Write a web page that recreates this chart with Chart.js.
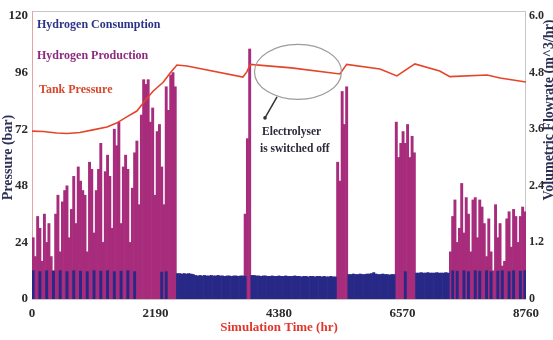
<!DOCTYPE html>
<html>
<head>
<meta charset="utf-8">
<title>Hydrogen tank simulation</title>
<script src="https://cdn.jsdelivr.net/npm/chart.js@4.4.1/dist/chart.umd.min.js"></script>
<style>
  html, body { margin: 0; padding: 0; background: #fff; }
  #wrap { width: 553px; height: 340px; position: relative; }
</style>
</head>
<body>
<div id="wrap"><canvas id="h2Chart"></canvas></div>
<script>
// every bar covers 40 hours of the year
const binHours = 40;
const xTickStep = 2190;

// hydrogen production (m^3/hr), one value per bin, each run starts at the given hour
const prodRun1Start = 0;
const prodRun1 = [
  1.3, 0.9, 1.75, 1.5, 0.8, 1.8, 1.2, 1.6, 0.9, 0.6,
  1.8, 2.2, 1.0, 2.06, 2.3, 2.4, 1.3, 1.9, 2.6, 1.6,
  2.8, 2.5, 2.3, 2.2, 1.0, 2.9, 2.75, 1.4, 2.3, 2.75,
  3.3, 1.2, 2.7, 3.05, 2.6, 1.5, 3.6, 3.25, 3.75, 1.6,
  2.8, 3.05, 2.75, 1.2, 2.35, 3.1, 3.35, 2.0, 3.9, 4.65,
  4.55, 4.65, 3.75, 4.05, 2.2, 3.55, 3.7, 2.8, 2.0, 4.5,
  4.0, 4.75, 4.8, 4.5
];
const prodRun2Start = 3760;
const prodRun2 = [1.8, 3.4, 5.3];
const prodRun3Start = 5400;
const prodRun3 = [2.9, 2.5, 4.4, 3.7, 4.5];
const prodRun4Start = 6440;
const prodRun4 = [3.75, 3.0, 3.3, 3.55, 3.3, 3.7, 3.0, 3.45, 3.1];
const prodRun5Start = 7400;
const prodRun5 = [
  1.0, 1.75, 2.1, 1.2, 1.5, 2.45, 1.4, 2.15, 1.8, 1.0,
  2.1, 2.15, 1.3, 2.1, 1.95, 1.6, 0.9, 1.7, 1.0, 0.6,
  2.0, 1.3, 1.6, 0.7, 0.8, 1.7, 1.85, 1.1, 1.9, 1.75,
  1.2, 1.75, 1.95, 1.85
];

// hydrogen consumption (m^3/hr) while the electrolyser is off
const useOff1Start = 2560;
const useOff1 = [0.54, 0.54, 0.53, 0.54, 0.53, 0.54, 0.53, 0.52, 0.5, 0.49,
  0.5, 0.49, 0.5, 0.49, 0.49, 0.5, 0.49, 0.49, 0.5, 0.49,
  0.49, 0.48, 0.49, 0.49, 0.48, 0.49, 0.49, 0.48, 0.49, 0.49, 0.48];
const useOff2Start = 3880;
const useOff2 = [0.5, 0.5, 0.49, 0.49, 0.48, 0.49, 0.49, 0.48, 0.48, 0.49, 0.48,
  0.48, 0.49, 0.48, 0.48, 0.49, 0.48, 0.48, 0.48, 0.49, 0.48,
  0.48, 0.47, 0.48, 0.48, 0.47, 0.48, 0.48, 0.47, 0.48, 0.48,
  0.47, 0.48, 0.47, 0.47, 0.48, 0.47, 0.47];
const useOff3Start = 5600;
const useOff3 = [0.52, 0.52, 0.53, 0.52, 0.52, 0.53, 0.52, 0.52, 0.53, 0.53,
  0.54, 0.56, 0.53, 0.52, 0.52, 0.53, 0.52, 0.52, 0.51, 0.52, 0.52];
const useOff4Start = 6800;
const useOff4 = [0.55, 0.55, 0.56, 0.55, 0.55, 0.56, 0.55, 0.55, 0.55, 0.56,
  0.55, 0.55, 0.55, 0.56, 0.55];
// consumption showing through between production bars
const nightHours = [0, 120, 240, 360, 480, 600, 720, 840, 960, 1080,
  1200, 1320, 1440, 1560, 1680, 1800, 2280, 2360, 6600, 7440,
  7520, 7640, 7720, 7840, 7920, 8040, 8120, 8240, 8320, 8440,
  8520, 8640, 8720];
const nightUse = [0.6, 0.58, 0.6, 0.59, 0.6, 0.58, 0.6, 0.59, 0.58, 0.6,
  0.59, 0.6, 0.58, 0.59, 0.6, 0.58, 0.57, 0.58, 0.58, 0.6,
  0.59, 0.6, 0.58, 0.6, 0.59, 0.6, 0.58, 0.59, 0.6, 0.58,
  0.6, 0.59, 0.6];

// tank pressure (bar)
const pressureHours = [0, 200, 440, 620, 850, 1080, 1330, 1500, 1680, 1860,
  2000, 2150, 2330, 2450, 2570, 2750, 3740, 3810, 3870, 4600,
  5460, 5580, 6170, 6470, 6790, 7230, 7410, 8070, 8300, 8760];
const pressureBar = [71.2, 71.0, 70.4, 70.2, 70.6, 71.7, 72.9, 74.6, 77.2, 79.7,
  84.0, 88.2, 92.0, 95.8, 99.2, 98.8, 94.1, 96.3, 99.5, 98.0,
  95.4, 99.5, 97.5, 94.6, 99.7, 96.7, 94.3, 95.0, 93.7, 92.0];

const serif = "'Liberation Serif', 'Times New Roman', serif";
const colProd = 'rgb(168,44,124)';
const colUse = 'rgb(40,40,135)';
const colPress = 'rgb(230,68,42)';

function binPoints(start, values) {
  return values.map((v, i) => ({ x: start + i * binHours + binHours / 2, y: v }));
}

const productionPts = [].concat(
  binPoints(prodRun1Start, prodRun1),
  binPoints(prodRun2Start, prodRun2),
  binPoints(prodRun3Start, prodRun3),
  binPoints(prodRun4Start, prodRun4),
  binPoints(prodRun5Start, prodRun5)
);
const consumptionPts = [].concat(
  binPoints(useOff1Start, useOff1),
  binPoints(useOff2Start, useOff2),
  binPoints(useOff3Start, useOff3),
  binPoints(useOff4Start, useOff4),
  nightHours.map((h, i) => ({ x: h + binHours / 2, y: nightUse[i] }))
).sort((a, b) => a.x - b.x);
const pressurePts = pressureHours.map((h, i) => ({ x: h, y: pressureBar[i] }));

// annotation placed in data units (hours, bar)
const note = {
  ellipse: { hr: 4717, bar: 96.3, hrSpan: 1543, barSpan: 23.3 },
  arrowFrom: { hr: 4345, bar: 85.7 },
  arrowTo: { hr: 4132, bar: 76.8 },
  lines: [
    { text: 'Electrolyser', hr: 4079, bar: 69.5 },
    { text: 'is switched off', hr: 4043, bar: 62.3 }
  ]
};

const decorations = {
  id: 'decorations',
  beforeDatasetsDraw(chart) {
    const { ctx, chartArea: a } = chart;
    ctx.save();
    ctx.strokeStyle = '#c6c6c6';
    ctx.lineWidth = 1;
    ctx.strokeRect(a.left + 0.5, a.top - 5 + 0.5, a.right - a.left - 1, a.bottom - a.top + 5);
    ctx.strokeStyle = '#e4a4a4';
    ctx.beginPath();
    ctx.moveTo(a.left + 0.5, a.top - 5);
    ctx.lineTo(a.left + 0.5, a.bottom);
    ctx.stroke();
    ctx.restore();
  },
  afterDraw(chart) {
    const { ctx, chartArea: a } = chart;
    const xs = chart.scales.x, ys = chart.scales.y;
    ctx.save();

    // legend, text only
    ctx.font = 'bold 12px ' + serif;
    ctx.textBaseline = 'alphabetic';
    ctx.textAlign = 'left';
    ctx.fillStyle = '#2c3585';
    ctx.fillText('Hydrogen Consumption', a.left + 5, 28);
    ctx.fillStyle = '#8c2a80';
    ctx.fillText('Hydrogen Production', a.left + 5, 59);
    ctx.fillStyle = '#d8472b';
    ctx.fillText('Tank Pressure', a.left + 7, 93);

    // ellipse + pointer + note
    const e = note.ellipse;
    const cx = xs.getPixelForValue(e.hr), cy = ys.getPixelForValue(e.bar);
    const rx = Math.abs(xs.getPixelForValue(e.hr + e.hrSpan / 2) - cx);
    const ry = Math.abs(ys.getPixelForValue(e.bar + e.barSpan / 2) - cy);
    ctx.strokeStyle = '#9c9c9c';
    ctx.lineWidth = 1.2;
    ctx.beginPath();
    ctx.ellipse(cx, cy, rx, ry, 0, 0, Math.PI * 2);
    ctx.stroke();

    const x1 = xs.getPixelForValue(note.arrowFrom.hr), y1 = ys.getPixelForValue(note.arrowFrom.bar);
    const x2 = xs.getPixelForValue(note.arrowTo.hr), y2 = ys.getPixelForValue(note.arrowTo.bar);
    ctx.strokeStyle = '#333';
    ctx.lineWidth = 1.5;
    ctx.beginPath();
    ctx.moveTo(x1, y1);
    ctx.lineTo(x2, y2);
    ctx.stroke();
    ctx.fillStyle = '#333';
    ctx.beginPath();
    ctx.arc(x2, y2, 1.8, 0, Math.PI * 2);
    ctx.fill();

    ctx.font = 'bold 11.5px ' + serif;
    ctx.fillStyle = '#2b2b3b';
    note.lines.forEach(l => {
      ctx.fillText(l.text, xs.getPixelForValue(l.hr), ys.getPixelForValue(l.bar));
    });

    // right axis title, reading bottom to top
    ctx.translate(549, 110);
    ctx.rotate(-Math.PI / 2);
    ctx.textAlign = 'center';
    ctx.textBaseline = 'middle';
    ctx.font = 'bold 14px ' + serif;
    ctx.fillStyle = '#2d2f55';
    ctx.fillText('Volumetric Flowrate (m^3/hr)', 0, 0);
    ctx.restore();
  }
};

const tickFont = { family: serif, size: 13, weight: 'bold' };

new Chart(document.getElementById('h2Chart'), {
  type: 'bar',
  data: {
    datasets: [
      {
        type: 'line',
        label: 'Tank Pressure',
        data: pressurePts,
        yAxisID: 'y',
        borderColor: colPress,
        borderWidth: 1.6,
        pointRadius: 0,
        tension: 0,
        order: 0
      },
      {
        label: 'Hydrogen Consumption',
        data: consumptionPts,
        yAxisID: 'y1',
        backgroundColor: colUse,
        borderWidth: 0,
        barPercentage: 1,
        categoryPercentage: 1,
        grouped: false,
        order: 1
      },
      {
        label: 'Hydrogen Production',
        data: productionPts,
        yAxisID: 'y1',
        backgroundColor: colProd,
        borderWidth: 0,
        barPercentage: 1,
        categoryPercentage: 1,
        grouped: false,
        order: 2
      }
    ]
  },
  options: {
    responsive: true,
    maintainAspectRatio: false,
    animation: false,
    layout: { padding: { top: 16, left: 0, right: 0, bottom: 0 } },
    plugins: {
      legend: { display: false },
      tooltip: { enabled: false }
    },
    scales: {
      x: {
        type: 'linear',
        min: 0,
        max: 8760,
        offset: false,
        grid: { display: false, drawTicks: false },
        border: { display: false },
        ticks: {
          stepSize: xTickStep,
          font: tickFont,
          color: '#2a2a2a',
          padding: 7,
          maxRotation: 0,
          autoSkip: false,
          callback: v => String(v)
        },
        title: {
          display: true,
          text: 'Simulation Time (hr)',
          color: '#e0362c',
          font: { family: serif, size: 13, weight: 'bold' },
          padding: { top: 0, bottom: 5 }
        },
        afterFit: s => { s.height = 41; }
      },
      y: {
        position: 'left',
        min: 0,
        max: 120,
        grid: { display: false, drawTicks: false },
        border: { display: false },
        ticks: { stepSize: 24, font: tickFont, color: '#2a2a2a', padding: 4 },
        title: {
          display: true,
          text: 'Pressure (bar)',
          color: '#2d2f55',
          font: { family: serif, size: 14, weight: 'bold' },
          padding: { top: 0, bottom: 0 }
        },
        afterFit: s => { s.width = 32; }
      },
      y1: {
        position: 'right',
        min: 0,
        max: 6,
        grid: { display: false, drawTicks: false },
        border: { display: false },
        ticks: {
          stepSize: 1.2,
          font: { family: serif, size: 12, weight: 'bold' },
          color: '#2a2a2a',
          padding: 3,
          callback: v => (v === 0 ? '0' : v.toFixed(1))
        },
        afterFit: s => { s.width = 27; }
      }
    }
  },
  plugins: [decorations]
});
</script>
</body>
</html>
